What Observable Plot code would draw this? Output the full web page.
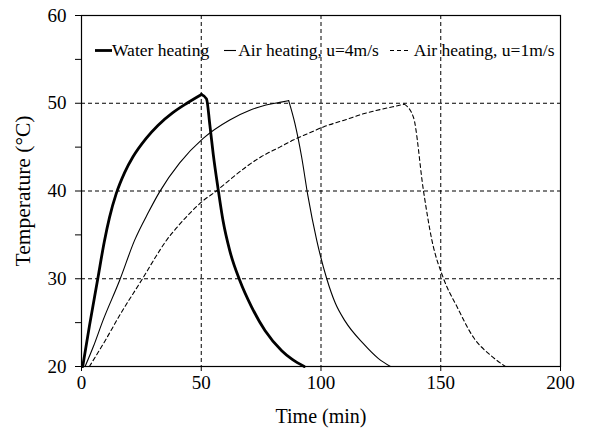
<!DOCTYPE html>
<html>
<head>
<meta charset="utf-8">
<script src="https://cdn.jsdelivr.net/npm/d3@7"></script>
<script src="https://cdn.jsdelivr.net/npm/@observablehq/plot@0.6"></script>
<style>
  body { margin: 0; background: #fff; }
  #chart { position: relative; width: 591px; height: 429px; color: #000; font-family: "Liberation Serif", "Times New Roman", serif; }
  .legend { position: absolute; left: 95px; top: 39px; font-size: 17.5px; line-height: 17px; white-space: nowrap; }
  .legend svg { display: inline-block; vertical-align: baseline; overflow: visible; }
</style>
</head>
<body>
<div id="chart"></div>
<script>
// Temperature histories (time in min, temperature in °C); the peak splits heating from cooling
const waterTime = [0.5, 3.3, 6.8, 9.5, 11.7, 14.5, 18, 21.5, 27, 32, 38, 44, 50.1, 52.2, 53.6, 55, 57, 59.1, 61.9, 66.1, 71, 76.6, 83.6, 88, 93];
const waterTemp = [20, 24.6, 30.0, 34.2, 37.0, 39.7, 42.1, 43.9, 46.0, 47.5, 48.9, 50.0, 51.0, 50.5, 47.5, 44.2, 40.3, 36.6, 33.2, 29.8, 26.8, 24.1, 21.8, 20.8, 20];
const waterPeak = 50.1;

const air4Time = [1.5, 5, 8.9, 15.9, 22.2, 28, 32.6, 41, 50.8, 61.9, 70.3, 77, 82.8, 86.5, 89.1, 91.9, 94.5, 98.2, 102.4, 106, 110, 117.7, 124, 129];
const air4Temp = [20, 22.3, 25.2, 29.8, 34.4, 37.6, 39.9, 43.2, 46.0, 48.1, 49.2, 49.8, 50.1, 50.3, 47.7, 43.9, 39.5, 34.4, 30.0, 27.2, 25.2, 22.6, 20.9, 20];
const air4Peak = 86.5;

const air1Time = [3.3, 10, 16.3, 25, 32.6, 35, 40, 45, 50.8, 56.3, 62, 69.5, 75, 82.8, 88.4, 95, 101, 110, 117.7, 125, 130, 134.8, 138.6, 142.8, 146.3, 151.2, 156.8, 163.7, 170.7, 177];
const air1Temp = [20, 23, 26, 29.8, 33.2, 34.2, 35.9, 37.4, 38.9, 40.0, 41.3, 42.9, 43.9, 45.0, 45.8, 46.6, 47.3, 48.1, 48.8, 49.3, 49.6, 49.9, 48.4, 40, 34.4, 30, 26.8, 23.3, 21.3, 20];
const air1Peak = 134.8;

const seriesNames = ["Water heating", "Air heating, u=4m/s", "Air heating, u=1m/s"];

const xTicks = [0, 50, 100, 150, 200];
const yTicks = [20, 25, 30, 35, 40, 45, 50, 55, 60];
const xGrid = [50, 100, 150];
const yGrid = [30, 40, 50];

const serifFont = '"Liberation Serif", "Times New Roman", serif';

// heating branch and cooling branch share the peak point
const toRows = (ts, vs, peak) => {
  const rows = [];
  ts.forEach((t, i) => {
    if (t <= peak) rows.push({t, T: vs[i], phase: 0});
    if (t >= peak) rows.push({t, T: vs[i], phase: 1});
  });
  return rows;
};
const water = toRows(waterTime, waterTemp, waterPeak);
const air4 = toRows(air4Time, air4Temp, air4Peak);
const air1 = toRows(air1Time, air1Temp, air1Peak);

const dash = "4,3";

const plot = Plot.plot({
  width: 591,
  height: 429,
  marginLeft: 81,
  marginRight: 31,
  marginTop: 15,
  marginBottom: 63,
  style: {fontFamily: serifFont, fontSize: "19px", background: "#fff", color: "#000"},
  x: {domain: [0, 200]},
  y: {domain: [20, 60]},
  marks: [
    Plot.ruleX(xGrid, {stroke: "#000", strokeWidth: 1, strokeDasharray: dash}),
    Plot.ruleY(yGrid, {stroke: "#000", strokeWidth: 1, strokeDasharray: dash}),
    Plot.axisX({ticks: xTicks, tickSize: 5, tickPadding: 4, fontSize: 19, label: null}),
    Plot.axisX({ticks: [], tickSize: 0, fontSize: 20, label: "Time (min)", labelAnchor: "center", labelArrow: "none", labelOffset: 56}),
    Plot.axisY({ticks: yTicks, tickSize: 6, tickPadding: 9, fontSize: 19, tickFormat: d => d % 10 === 0 ? String(d) : "", label: null}),
    Plot.axisY({ticks: [], tickSize: 0, fontSize: 21.5, label: "Temperature (°C)", labelAnchor: "center", labelArrow: "none", labelOffset: 67}),
    Plot.frame({stroke: "#000", strokeWidth: 1.2}),
    Plot.line(air1, {x: "t", y: "T", z: "phase", curve: "monotone-x", stroke: "#000", strokeWidth: 1.1, strokeDasharray: dash}),
    Plot.line(air4, {x: "t", y: "T", z: "phase", curve: "monotone-x", stroke: "#000", strokeWidth: 1.1}),
    Plot.line(water, {x: "t", y: "T", z: "phase", curve: "monotone-x", stroke: "#000", strokeWidth: 2.8, strokeLinejoin: "round", strokeLinecap: "round"})
  ]
});

const chart = document.getElementById("chart");
chart.appendChild(plot);

// Legend row drawn over the plot area
const legend = document.createElement("div");
legend.className = "legend";
const swatches = [
  {w: 17, sw: 2.8, dash: null, gapBefore: 0, gapAfter: 0},
  {w: 12, sw: 1.1, dash: null, gapBefore: 15, gapAfter: 2},
  {w: 20, sw: 1.1, dash: "4,3", gapBefore: 11, gapAfter: 4}
];
seriesNames.forEach((name, i) => {
  const s = swatches[i];
  const svg = document.createElementNS("http://www.w3.org/2000/svg", "svg");
  svg.setAttribute("width", s.w);
  svg.setAttribute("height", 17);
  svg.style.marginLeft = s.gapBefore + "px";
  svg.style.marginRight = s.gapAfter + "px";
  const ln = document.createElementNS("http://www.w3.org/2000/svg", "line");
  ln.setAttribute("x1", 0); ln.setAttribute("x2", s.w);
  ln.setAttribute("y1", 11.5); ln.setAttribute("y2", 11.5);
  ln.setAttribute("stroke", "#000");
  ln.setAttribute("stroke-width", s.sw);
  if (s.dash) ln.setAttribute("stroke-dasharray", s.dash);
  svg.appendChild(ln);
  legend.appendChild(svg);
  const span = document.createElement("span");
  span.textContent = name;
  legend.appendChild(span);
});
chart.appendChild(legend);
</script>
</body>
</html>
